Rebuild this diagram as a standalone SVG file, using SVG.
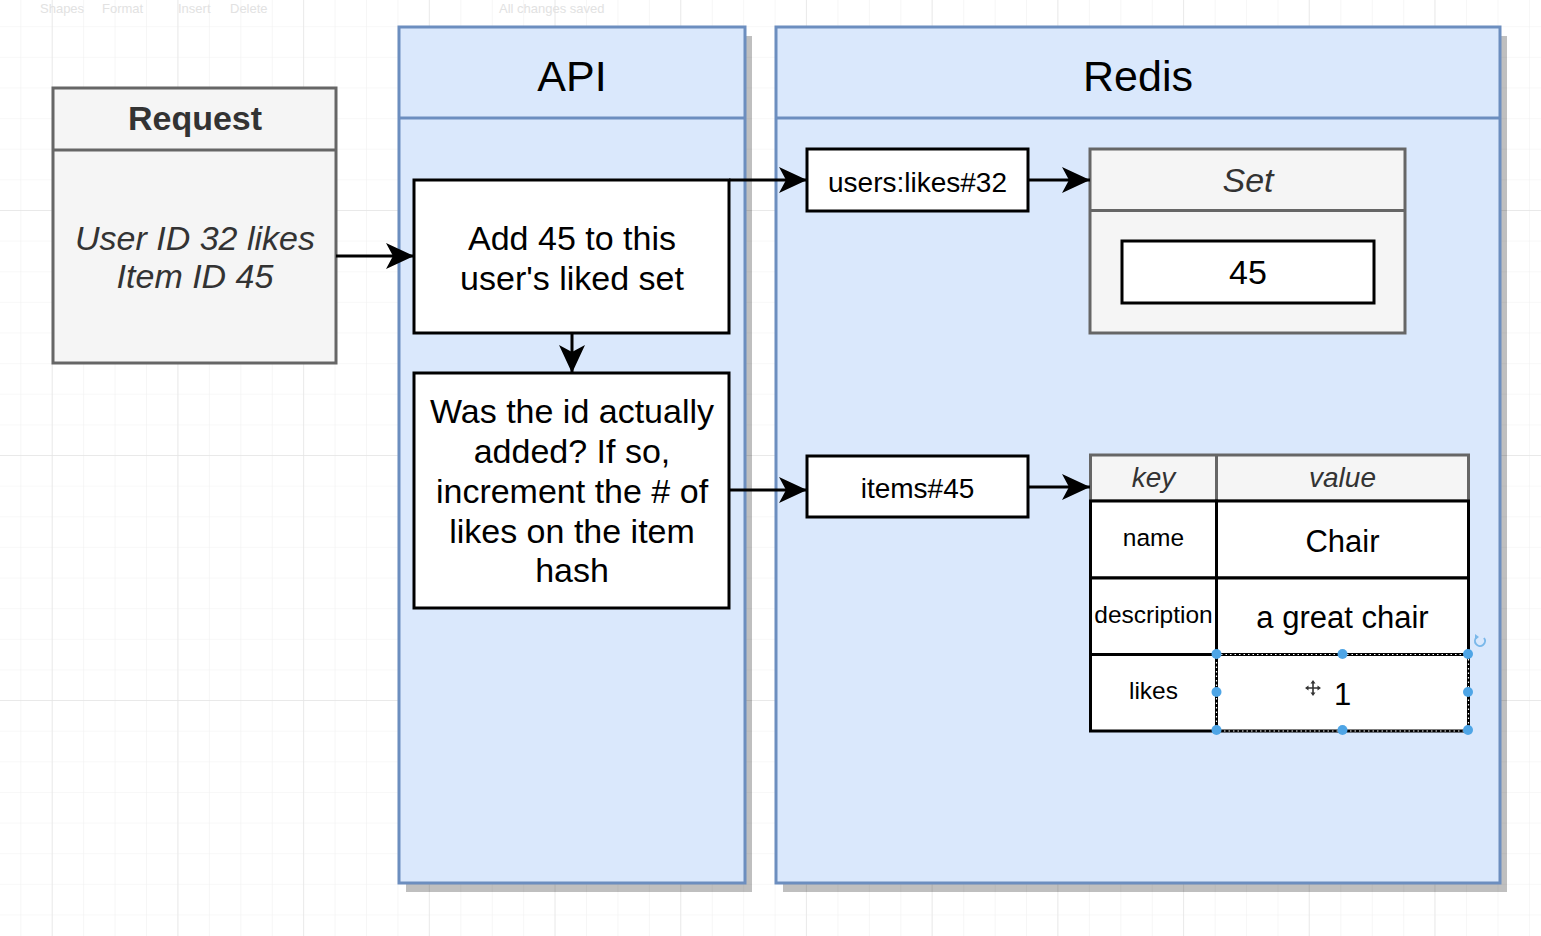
<svg xmlns="http://www.w3.org/2000/svg" width="1541" height="936" viewBox="0 0 1541 936">
<defs>
<pattern id="gridMinor" patternUnits="userSpaceOnUse" x="20.3" y="26.2" width="31.43" height="30.63">
<path d="M0,0 V30.63 M0,0 H31.43" fill="none" stroke="#f1f1f1" stroke-width="1.2"/>
</pattern>
<pattern id="gridMajorV" patternUnits="userSpaceOnUse" x="51.7" y="0" width="125.7" height="936">
<path d="M0,0 V936" fill="none" stroke="#e5e5e5" stroke-width="1.4"/>
</pattern>
<pattern id="gridMajorH" patternUnits="userSpaceOnUse" x="0" y="210" width="1541" height="245">
<path d="M0,0 H1541" fill="none" stroke="#e5e5e5" stroke-width="1.4"/>
</pattern>
<marker id="arr" markerUnits="userSpaceOnUse" markerWidth="32" markerHeight="32" viewBox="0 -16 32 32" refX="28" refY="0" orient="auto">
<path d="M0,-13 L28,0 L0,13 L7,0 Z" fill="#000"/>
</marker>
</defs>
<style>
text{font-family:"Liberation Sans",Arial,Helvetica,sans-serif;text-anchor:middle;fill:#000}
.lane{fill:#dae8fc;stroke:#6c8ebf;stroke-width:3}
.laneDiv{stroke:#6c8ebf;stroke-width:3}
.shadow{fill:#000;opacity:0.25}
.grey{fill:#f5f5f5;stroke:#666;stroke-width:3}
.greyDiv{stroke:#666;stroke-width:3}
.box{fill:#fff;stroke:#000;stroke-width:3}
.cell{fill:#fff;stroke:#000;stroke-width:3}
.conn{fill:none;stroke:#000;stroke-width:3;marker-end:url(#arr)}
.title{font-size:43px}
.lbl{font-size:34px}
.sm{font-size:28px}
.key{font-size:24.5px}
.val{font-size:31px}
.it{font-style:italic;fill:#333}
.handle{fill:#4ea5e6}
.tb{font-size:13px;fill:#e2e2e2;text-anchor:start}
</style>
<rect width="1541" height="936" fill="#fff"/>
<rect width="1541" height="936" fill="url(#gridMinor)"/>
<rect width="1541" height="936" fill="url(#gridMajorV)"/>
<rect width="1541" height="936" fill="url(#gridMajorH)"/>
<g id="toolbar">
<text class="tb" x="40" y="13">Shapes</text>
<text class="tb" x="102" y="13">Format</text>
<text class="tb" x="178" y="13">Insert</text>
<text class="tb" x="230" y="13">Delete</text>
<text class="tb" x="499" y="13">All changes saved</text>
</g>
<g id="request">
<rect class="grey" x="53" y="88" width="283" height="275"/>
<line class="greyDiv" x1="53" y1="150" x2="336" y2="150"/>
<text x="195" y="130" style="font-size:34px;font-weight:bold;fill:#333">Request</text>
<text class="lbl it" x="195" y="250">User ID 32 likes</text>
<text class="lbl it" x="195" y="288">Item ID 45</text>
</g>
<g id="api">
<rect class="shadow" x="406" y="36" width="346" height="856"/>
<rect class="lane" x="399" y="27" width="346" height="856"/>
<line class="laneDiv" x1="399" y1="118" x2="745" y2="118"/>
<text class="title" x="572" y="91">API</text>
</g>
<g id="redis">
<rect class="shadow" x="783" y="36" width="724" height="856"/>
<rect class="lane" x="776" y="27" width="724" height="856"/>
<line class="laneDiv" x1="776" y1="118" x2="1500" y2="118"/>
<text class="title" x="1138" y="91">Redis</text>
</g>
<g id="add-to-set">
<rect class="box" x="414" y="180" width="315" height="153"/>
<text class="lbl" x="572" y="250">Add 45 to this</text>
<text class="lbl" x="572" y="290">user's liked set</text>
</g>
<g id="was-added">
<rect class="box" x="414" y="373" width="315" height="235"/>
<text class="lbl" x="572" y="423">Was the id actually</text>
<text class="lbl" x="572" y="463">added? If so,</text>
<text class="lbl" x="572" y="503">increment the # of</text>
<text class="lbl" x="572" y="543">likes on the item</text>
<text class="lbl" x="572" y="582">hash</text>
</g>
<g id="users-likes-key">
<rect class="box" x="807" y="149" width="221" height="62"/>
<text class="sm" x="917.5" y="192">users:likes#32</text>
</g>
<g id="items-key">
<rect class="box" x="807" y="456" width="221" height="61"/>
<text class="sm" x="917.5" y="498">items#45</text>
</g>
<g id="set">
<rect class="grey" x="1090" y="149" width="315" height="184"/>
<line class="greyDiv" x1="1090" y1="210.5" x2="1405" y2="210.5"/>
<text class="it" x="1248" y="192" style="font-size:34px">Set</text>
<rect class="box" x="1122" y="241" width="252" height="62"/>
<text class="lbl" x="1248" y="284">45</text>
</g>
<g id="hash">
<rect class="grey" x="1090.5" y="455" width="378" height="46"/>
<line class="greyDiv" x1="1216.5" y1="455" x2="1216.5" y2="501"/>
<text class="sm it" x="1153.5" y="487">key</text>
<text class="sm it" x="1342.5" y="487">value</text>
<rect class="cell" x="1090.5" y="501" width="126" height="77"/>
<rect class="cell" x="1216.5" y="501" width="252" height="77"/>
<rect class="cell" x="1090.5" y="578" width="126" height="76.5"/>
<rect class="cell" x="1216.5" y="578" width="252" height="76.5"/>
<rect class="cell" x="1090.5" y="654.5" width="126" height="76.5"/>
<rect class="cell" x="1216.5" y="654.5" width="252" height="76.5"/>
<text class="key" x="1153.5" y="546">name</text>
<text class="val" x="1342.5" y="552">Chair</text>
<text class="key" x="1153.5" y="623">description</text>
<text class="val" x="1342.5" y="628">a great chair</text>
<text class="key" x="1153.5" y="699">likes</text>
<text class="val" x="1342.5" y="705">1</text>
</g>
<g id="selection">
<rect x="1216.5" y="654.5" width="252" height="76.5" fill="none" stroke="#fff" stroke-width="1.2" stroke-dasharray="1.5 3"/>
<circle class="handle" cx="1216.5" cy="654" r="5"/>
<circle class="handle" cx="1342.5" cy="654" r="5"/>
<circle class="handle" cx="1468" cy="654" r="5"/>
<circle class="handle" cx="1216.5" cy="692" r="5"/>
<circle class="handle" cx="1468" cy="692" r="5"/>
<circle class="handle" cx="1216.5" cy="730" r="5"/>
<circle class="handle" cx="1342.5" cy="730" r="5"/>
<circle class="handle" cx="1468" cy="730" r="5"/>
<path d="M1484,638 A5,5 0 1 1 1477,637" fill="none" stroke="#7ab8ea" stroke-width="2"/>
<path d="M1475,634 L1479,637 L1475,640 Z" fill="#7ab8ea"/>
<g stroke="#333" stroke-width="1.6" fill="none">
<path d="M1307,688 H1319 M1313,682 V694"/>
</g>
<path d="M1313,680 L1310.5,683.5 H1315.5 Z M1313,696 L1310.5,692.5 H1315.5 Z M1305,688 L1308.5,685.5 V690.5 Z M1321,688 L1317.5,685.5 V690.5 Z" fill="#333"/>
</g>
<g id="connectors">
<path class="conn" d="M336,256 H414"/>
<path class="conn" d="M572,333 V373"/>
<path class="conn" d="M729,180 H807"/>
<path class="conn" d="M1028,180 H1090"/>
<path class="conn" d="M729,490 H807"/>
<path class="conn" d="M1028,487 H1090"/>
</g>
</svg>
